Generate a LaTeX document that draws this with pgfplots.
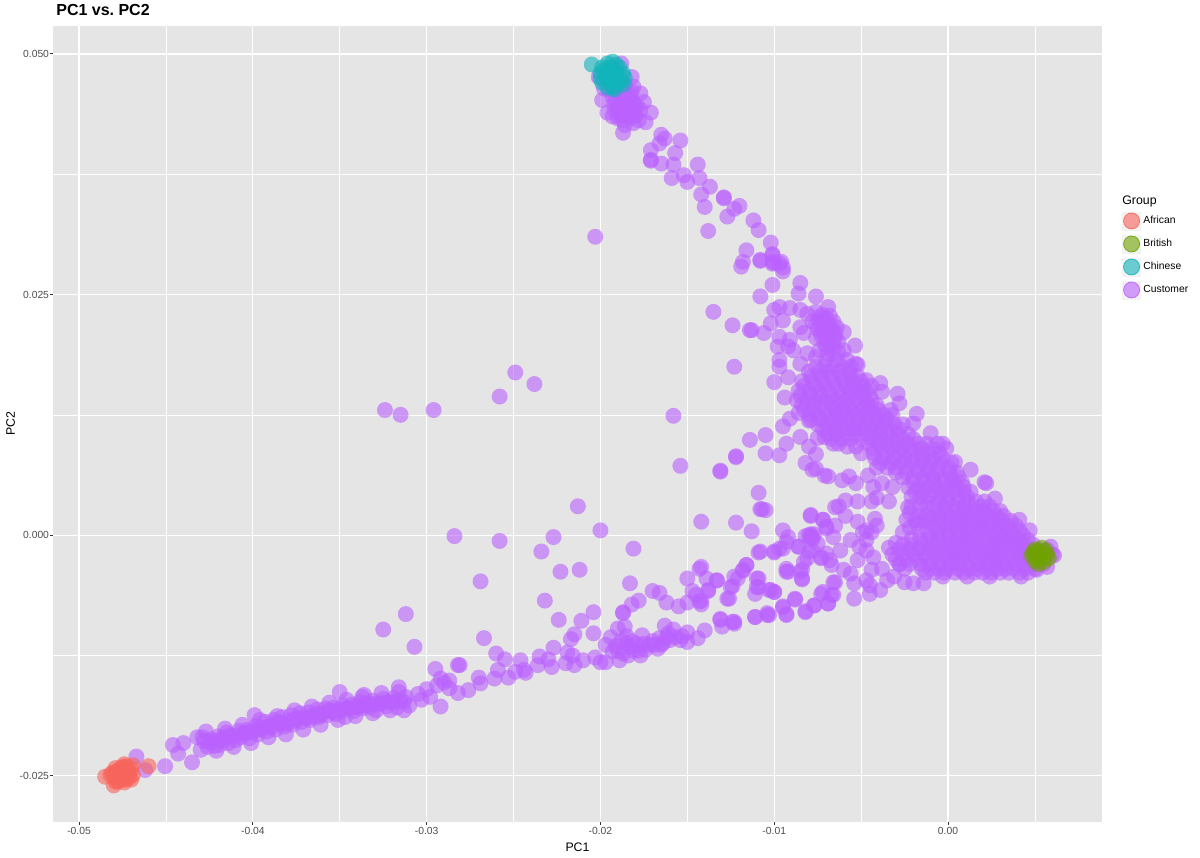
\documentclass[border=0pt]{standalone}
\usepackage{pgfplots}
\pgfplotsset{compat=1.18}
\usepackage{fontspec}
\setmainfont{Liberation Sans}
\definecolor{panel}{HTML}{E5E5E5}
\definecolor{keybg}{HTML}{F2F2F2}
\definecolor{ticktxt}{HTML}{4D4D4D}
\definecolor{tickln}{HTML}{333333}
\definecolor{cAfrican}{HTML}{F8645C}
\definecolor{cBritish}{HTML}{6FA300}
\definecolor{cChinese}{HTML}{10B4BA}
\definecolor{cCustomer}{HTML}{BA61FF}
\pgfplotsset{
  dot/.style={only marks,mark=*,mark size=4.8pt,mark options={draw opacity=0,line width=0pt,fill=#1,fill opacity=0.6}},
  key/.style={legend image code/.code={
    \fill[keybg] (0pt,-5.4pt) rectangle (10.8pt,5.4pt);
    \fill[#1,fill opacity=0.6] (5.4pt,0pt) circle (4.8pt);}}
}
\begin{document}
\begin{tikzpicture}
\path[use as bounding box] (0pt,0pt) rectangle (720pt,514.2pt);
% values on the axis are PC1 and PC2 times 1000; tick labels show the real values
\begin{axis}[
  at={(31.8pt,21pt)},anchor=south west,
  scale only axis,width=629.4pt,height=477.6pt,
  xmin=-51.5,xmax=8.86,ymin=-29.8,ymax=52.9,
  axis background/.style={fill=panel},
  axis line style={draw=none},
  tick align=outside,tick pos=left,
  major tick length=1.8pt,minor tick length=0pt,
  tick style={tickln,line width=0.55pt},
  xtick={-50,-40,-30,-20,-10,0},
  xticklabels={-0.05,-0.04,-0.03,-0.02,-0.01,0.00},
  ytick={-25,0,25,50},
  yticklabels={-0.025,0.000,0.025,0.050},
  minor xtick={-45,-35,-25,-15,-5,5},
  minor ytick={-12.5,12.5,37.5},
  grid=both,
  major grid style={white,line width=0.75pt},
  minor grid style={white,line width=0.35pt},
  tick label style={font=\fontsize{6.2}{7.5}\selectfont,text=ticktxt},
  xticklabel style={inner sep=1pt},
  yticklabel style={inner sep=0.4pt},
  xlabel={PC1},ylabel={PC2},
  label style={font=\fontsize{7.4}{9}\selectfont},
  xlabel style={at={(axis description cs:0.5,-0.0188)},anchor=north},
  ylabel style={at={(axis description cs:-0.0305,0.5)},anchor=south},
  legend cell align=left,
  legend style={draw=none,fill=none,at={(axis description cs:1.0142,0.7714)},anchor=north west,
    font=\fontsize{6.2}{7.5}\selectfont,row sep=2.6pt,
    nodes={inner sep=0pt,outer sep=0pt},column sep=1.5pt},
]
\addlegendimage{key=cAfrican}\addlegendentry{African}
\addlegendimage{key=cBritish}\addlegendentry{British}
\addlegendimage{key=cChinese}\addlegendentry{Chinese}
\addlegendimage{key=cCustomer}\addlegendentry{Customer}
% Customer
\addplot[dot=cCustomer,forget plot] coordinates {
(-46.7,-23.0)(-46.2,-24.4)(-45.05,-24.0)(-44.6,-21.8)(-44.0,-21.6)(-44.3,-22.7)(-43.5,-23.6)(-42.9,-21.0)(-39.9,-18.7)(-35.0,-16.3)(-33.7,-16.8)(-31.6,-15.8)
(-32.5,-9.8)(-31.2,-8.2)(-30.7,-11.6)(-29.5,-13.9)(-29.2,-17.8)(-28.2,-13.5)
(-43.2,-21.0)(-43.0,-22.3)(-42.8,-21.4)(-42.6,-22.0)(-42.4,-21.2)(-42.2,-21.9)(-42.0,-20.9)(-41.9,-21.8)(-41.7,-21.3)(-41.5,-20.5)(-41.4,-21.6)(-41.2,-20.9)(-41.0,-21.3)(-40.8,-20.3)(-40.7,-21.0)(-40.5,-20.6)(-40.3,-20.2)(-40.2,-21.1)(-40.0,-20.4)(-39.8,-19.8)(-39.7,-20.7)(-39.5,-20.0)(-39.3,-19.4)(-39.2,-20.4)(-39.0,-19.8)(-38.8,-19.2)(-38.7,-20.2)(-38.5,-19.6)(-38.3,-18.9)(-38.2,-19.9)(-38.0,-19.3)(-37.8,-18.7)(-37.7,-19.7)(-37.5,-19.1)(-37.3,-18.5)(-37.2,-19.4)(-37.0,-18.9)(-36.8,-18.4)(-36.7,-19.2)(-36.5,-18.7)(-36.3,-18.1)(-36.2,-18.9)(-36.0,-18.5)(-35.8,-18.0)(-35.7,-18.7)(-35.5,-18.3)(-35.3,-17.9)(-35.2,-18.6)(-35.0,-18.1)(-34.8,-17.7)(-34.7,-18.9)(-34.5,-18.0)(-34.3,-17.6)(-34.2,-18.3)(-34.0,-17.8)(-33.8,-17.3)(-33.7,-18.0)(-33.5,-17.5)(-33.3,-17.9)(-33.1,-17.2)(-32.9,-18.2)(-32.7,-17.5)(-32.5,-17.0)(-32.3,-17.8)(-32.1,-17.3)(-31.9,-16.9)(-31.7,-17.9)(-31.5,-17.2)(-31.2,-16.8)(-31.0,-17.7)
(-42.7,-20.4)(-42.1,-22.4)(-41.6,-20.1)(-41.1,-22.0)(-40.6,-19.7)(-40.1,-21.6)(-39.6,-19.2)(-39.1,-21.0)(-38.6,-18.8)(-38.1,-20.7)(-37.6,-18.2)(-37.1,-20.2)(-36.6,-17.8)(-36.1,-19.7)(-35.6,-17.4)(-35.1,-19.2)(-34.6,-17.1)(-34.1,-18.8)(-33.6,-16.6)(-33.1,-18.5)(-32.6,-16.4)(-32.1,-18.2)(-31.6,-16.3)(-31.3,-18.2)
(-41.3,-20.8)(-40.6,-20.6)(-39.9,-20.3)(-39.1,-19.9)(-38.4,-19.5)(-37.6,-19.3)(-36.9,-19.0)(-36.1,-18.7)(-35.4,-18.4)(-34.6,-18.0)(-33.9,-17.8)(-33.2,-17.5)
(-42.5,-21.5)(-42.0,-21.3)(-41.7,-21.0)(-41.0,-20.8)(-40.3,-20.5)(-39.6,-20.2)(-38.9,-20.0)(-38.6,-19.4)(-38.0,-19.6)(-37.4,-19.0)(-36.6,-18.9)(-36.3,-18.6)(-35.6,-18.2)(-34.9,-18.3)(-34.2,-17.9)(-33.6,-17.7)(-33.0,-17.6)(-32.4,-17.4)(-31.8,-17.3)(-31.3,-17.3)
(-30.5,-16.5)(-30.3,-17.1)(-30.0,-16.0)(-29.8,-16.8)(-29.4,-15.6)(-29.0,-15.3)
(-28.4,-0.1)(-25.8,-0.6)(-23.4,-1.7)(-22.7,-0.2)(-21.3,3.0)(-20.0,0.5)(-18.1,-1.4)(-26.9,-4.8)(-22.3,-3.8)(-21.2,-3.6)(-23.2,-6.8)(-18.3,-5.0)(-22.4,-8.8)(-20.4,-8.0)(-21.1,-8.9)(-26.7,-10.7)(-20.4,-10.2)(-21.5,-10.3)(-21.7,-10.8)(-22.7,-11.7)(-26.0,-12.3)(-25.5,-12.9)(-24.6,-13.0)(-23.5,-12.6)(-28.1,-13.5)(-23.0,-12.9)(-21.9,-12.2)(-21.6,-12.5)(-25.9,-14.0)(-26.1,-14.9)(-25.3,-14.8)(-24.9,-14.2)(-24.3,-14.3)(-24.4,-14.0)(-23.6,-13.5)(-22.8,-13.7)(-22.0,-13.3)(-21.5,-13.5)(-21.0,-13.0)(-20.3,-12.7)(-20.0,-13.2)(-19.7,-13.2)(-27.0,-14.8)(-26.9,-15.4)(-27.6,-16.1)(-28.7,-15.1)(-28.7,-15.9)(-28.2,-16.4)(-29.2,-14.9)
(-19.4,-10.6)(-19.0,-9.7)(-18.6,-9.5)(-19.7,-11.4)(-19.3,-12.1)(-18.9,-13.0)(-18.5,-11.2)(-18.1,-12.0)(-17.7,-12.5)(-17.6,-10.4)(-17.2,-11.4)(-16.7,-11.8)(-16.6,-10.7)(-16.3,-9.4)(-15.8,-9.8)(-16.0,-10.9)(-15.4,-10.9)(-15.0,-11.1)(-15.0,-10.1)(-14.4,-10.7)(-14.0,-9.9)(-18.3,-11.6)(-18.7,-12.3)(-19.1,-11.5)(-18.4,-12.5)(-17.9,-11.3)(-17.4,-11.9)(-17.0,-11.0)(-16.4,-11.2)(-16.2,-10.6)
(-18.8,-11.0)(-18.2,-11.0)(-17.8,-12.0)(-18.5,-10.5)(-19.0,-12.0)(-17.5,-11.3)(-16.9,-11.4)(-16.5,-11.4)(-15.7,-10.6)(-15.3,-10.5)(-16.1,-10.2)
(-18.7,-8.1)(-18.7,-8.0)(-18.2,-7.2)(-17.8,-6.8)(-17.0,-5.8)(-16.6,-6.0)(-16.2,-7.0)(-15.5,-7.4)(-15.0,-7.0)(-14.2,-7.2)(-14.3,-6.9)(-14.7,-5.8)(-14.5,-6.2)(-15.0,-4.5)(-14.3,-3.5)(-13.9,-4.5)(-13.3,-4.7)(-13.8,-5.8)(-12.7,-6.6)(-12.4,-5.3)(-12.1,-4.5)(-11.8,-3.7)(-11.6,-3.1)(-10.9,-1.8)(-11.3,0.4)(-12.2,1.3)(-14.2,1.4)(-10.9,4.4)(-10.8,2.7)(-10.5,2.6)
(-10.9,-4.5)(-11.0,-5.4)(-11.1,-6.1)(-10.2,-5.7)(-10.0,-5.9)(-11.1,-8.5)(-10.4,-8.3)(-10.4,-8.1)(-13.1,-8.8)(-13.0,-9.5)(-12.3,-9.2)(-12.3,-9.0)(-9.5,-7.4)(-9.3,-8.2)(-8.8,-6.7)(-8.2,-8.0)(-7.7,-7.3)(-6.9,-7.1)(-7.2,-5.9)(-6.6,-6.2)
(-9.3,-3.8)(-9.3,-3.5)(-8.4,-4.5)(-8.4,-3.6)(-8.3,-2.8)(-10.0,-1.8)(-9.5,-1.4)(-9.3,-0.7)(-9.5,0.5)(-8.6,-1.2)(-7.9,2.1)(-7.9,-0.2)(-7.8,-0.4)(-8.0,0.0)(-7.7,0.1)(-7.2,1.6)(-7.0,0.7)(-7.8,-1.6)(-7.3,-2.3)(-6.8,-2.6)(-6.5,-4.9)(-6.5,2.9)
(-20.3,31.0)(-32.4,13.0)(-31.5,12.5)(-29.6,13.0)(-24.9,16.9)(-25.8,14.4)(-23.8,15.7)(-15.8,12.4)(-15.4,7.2)(-13.1,6.6)(-12.2,8.2)(-12.3,17.5)(-13.5,23.2)(-12.4,21.8)(-11.3,21.3)
(-18.7,41.8)(-16.5,41.6)(-16.6,40.7)(-16.3,41.2)(-15.4,41.0)(-15.7,39.7)(-17.1,40.0)(-17.1,38.9)(-17.1,39.0)(-16.5,38.6)(-15.8,38.5)(-15.9,37.1)(-15.2,37.4)(-15.0,36.7)(-14.4,38.5)(-14.3,37.1)(-13.7,36.2)(-14.2,35.4)(-14.0,34.1)(-13.8,31.6)(-12.9,35.1)(-12.9,35.0)(-12.7,33.1)(-12.3,33.9)(-12.0,34.2)(-11.2,32.7)(-10.9,31.7)(-10.2,30.4)(-11.6,29.6)(-10.1,29.2)(-11.8,28.4)(-11.9,27.9)(-10.8,28.6)(-10.1,28.4)(-10.0,28.3)(-9.6,28.4)(-9.5,27.8)
(-19.9,45.2)(-19.6,43.9)(-19.3,43.5)(-18.7,43.1)(-18.1,42.8)(-17.4,42.9)(-17.1,43.9)(-17.5,45.0)(-17.7,45.9)(-17.8,43.1)(-19.0,44.5)(-18.5,45.5)(-18.1,46.6)(-18.2,47.6)(-18.8,49.0)(-19.8,46.4)(-20.1,47.6)(-19.0,44.6)(-18.3,44.2)(-17.7,44.2)(-19.3,45.5)(-19.5,46.3)(-18.5,43.9)(-18.1,44.9)(-19.0,43.3)(-18.6,42.6)(-19.2,44.8)(-18.8,44.0)(-18.4,45.0)(-18.0,43.6)(-18.9,46.0)(-18.6,46.8)(-18.3,43.3)(-17.9,44.6)
(-19.2,44.2)(-18.9,44.9)(-18.7,44.4)(-18.5,44.5)(-18.3,44.6)(-18.6,43.6)(-18.2,43.7)(-18.9,43.6)(-18.0,44.2)(-19.1,45.2)(-18.7,45.3)(-18.3,45.6)(-18.9,45.6)(-18.2,46.1)(-18.5,46.2)
(-8.1,23.0)(-7.6,23.2)(-7.2,22.9)(-6.8,22.8)(-7.8,22.2)(-7.4,22.3)(-7.0,22.1)(-6.6,22.2)(-7.5,21.4)(-7.1,21.5)(-6.7,21.3)(-6.4,21.6)(-7.3,20.7)(-6.9,20.7)(-6.5,20.5)(-7.6,20.5)(-7.1,19.9)(-6.7,19.8)(-6.3,20.1)
(-7.6,21.9)(-7.2,21.8)(-6.8,21.8)(-7.3,21.1)(-6.9,21.1)(-6.5,21.0)(-7.0,20.3)(-7.4,22.7)(-7.0,22.5)(-6.6,20.0)
(-9.7,23.7)(-9.1,23.6)(-8.5,23.4)(-10.0,23.4)(-10.2,22.0)(-9.5,22.3)(-10.6,21.0)(-9.7,20.6)(-9.1,20.3)(-9.2,19.6)(-9.8,19.6)(-8.9,19.2)(-9.7,18.2)(-8.3,21.0)(-8.5,21.6)(-9.7,17.5)(-9.2,16.4)(-10.0,15.9)(-9.4,14.3)(-11.4,21.3)
(-8.5,26.2)(-8.6,25.1)(-7.6,24.8)(-6.9,23.7)(-10.1,26.0)(-10.8,24.8)(-9.5,27.4)(-10.1,28.2)(-9.7,28.2)(-10.8,28.5)(-10.1,29.1)
(-5.35,19.7)(-6.0,21.1)(-5.3,17.8)(-5.8,18.2)(-6.6,18.9)(-7.6,18.5)(-8.5,17.8)(-8.1,18.9)(-7.0,19.6)(-6.0,19.2)(-5.2,17.7)
(-7.6,17.5)(-7.1,17.5)(-6.6,17.5)(-6.1,17.5)(-5.6,17.5)(-7.0,18.2)(-6.4,18.2)(-6.9,18.8)(-6.3,19.0)(-7.4,19.2)
(-4.7,16.1)(-3.9,15.8)(-3.8,14.9)(-2.9,14.7)(-2.8,13.7)(-3.3,13.0)(-1.8,12.6)(-2.0,11.6)(-1.0,10.6)(-0.3,9.5)(-0.1,9.0)(0.4,7.6)(1.3,6.8)(2.1,5.5)(2.2,5.4)(2.7,3.8)
(-8.0,17)(-7.4,17)(-6.9,17)(-6.3,17)(-5.7,17)
(-7.9,16.5)(-7.3,16.5)(-6.7,16.5)(-6.1,16.5)(-5.6,16.5)(-5.2,16.5)
(-8.4,16)(-7.8,16)(-7.2,16)(-6.6,16)(-6.0,16)(-5.5,16)(-5.0,16)
(-8.3,15.5)(-7.7,15.5)(-7.1,15.5)(-6.5,15.5)(-5.9,15.5)(-5.4,15.5)(-4.9,15.5)(-4.4,15.5)
(-8.6,15)(-8.0,15)(-7.4,15)(-6.9,15)(-6.3,15)(-5.7,15)(-5.2,15)(-4.7,15)
(-8.5,14.5)(-7.9,14.5)(-7.3,14.5)(-6.7,14.5)(-6.1,14.5)(-5.6,14.5)(-5.0,14.5)(-4.5,14.5)
(-8.7,14)(-8.1,14)(-7.6,14)(-7.0,14)(-6.4,14)(-5.9,14)(-5.3,14)(-4.8,14)(-4.4,14)
(-8.4,13.5)(-7.8,13.5)(-7.3,13.5)(-6.7,13.5)(-6.2,13.5)(-5.7,13.5)(-5.1,13.5)(-4.6,13.5)(-4.1,13.5)
(-8.3,13)(-7.7,13)(-7.1,13)(-6.5,13)(-6.0,13)(-5.5,13)(-4.9,13)(-4.4,13)(-4.0,13)
(-8.0,12.5)(-7.5,12.5)(-6.9,12.5)(-6.4,12.5)(-5.8,12.5)(-5.3,12.5)(-4.7,12.5)(-4.2,12.5)(-3.7,12.5)(-3.2,12.5)
(-7.9,12)(-7.3,12)(-6.7,12)(-6.2,12)(-5.6,12)(-5.1,12)(-4.6,12)(-4.0,12)(-3.5,12)
(-7.5,11.5)(-7.0,11.5)(-6.4,11.5)(-5.9,11.5)(-5.3,11.5)(-4.8,11.5)(-4.2,11.5)(-3.6,11.5)(-3.1,11.5)(-2.6,11.5)
(-7.2,11)(-6.6,11)(-6.1,11)(-5.5,11)(-5.0,11)(-4.4,11)(-3.9,11)(-3.3,11)(-2.8,11)
(-6.9,10.5)(-6.4,10.5)(-5.8,10.5)(-5.3,10.5)(-4.7,10.5)(-4.1,10.5)(-3.5,10.5)(-2.9,10.5)(-2.3,10.5)
(-6.7,10)(-6.1,10)(-5.6,10)(-5.0,10)(-4.4,10)(-3.8,10)(-3.2,10)(-2.6,10)(-2.0,10)
(-4.6,9.5)(-4.0,9.5)(-3.5,9.5)(-2.9,9.5)(-2.3,9.5)(-1.7,9.5)(-1.2,9.5)(-0.6,9.5)
(-4.3,9)(-3.8,9)(-3.2,9)(-2.6,9)(-2.0,9)(-1.5,9)(-0.9,9)
(-4.3,8.5)(-3.5,8.5)(-2.8,8.5)(-2.2,8.5)(-1.6,8.5)(-1.1,8.5)(-0.5,8.5)
(-4.2,8)(-3.7,8)(-3.1,8)(-2.5,8)(-1.9,8)(-1.4,8)(-0.8,8)(-0.3,8)
(-3.9,7.5)(-3.3,7.5)(-2.7,7.5)(-2.1,7.5)(-1.5,7.5)(-1.0,7.5)(-0.4,7.5)(0.2,7.5)
(-4.1,7)(-3.5,7)(-3.0,7)(-2.4,7)(-1.8,7)(-1.2,7)(-0.6,7)(0.0,7)
(-3.0,6.5)(-2.4,6.5)(-1.7,6.5)(-1.1,6.5)(-0.6,6.5)(0.1,6.5)(0.5,6.5)
(-2.6,6)(-2.0,6)(-1.4,6)(-0.9,6)(-0.3,6)(0.2,6)(0.6,6)
(-2.0,5.5)(-1.4,5.5)(-0.8,5.5)(-0.3,5.5)(0.3,5.5)(0.8,5.5)
(-2.3,5)(-1.7,5)(-1.1,5)(-0.6,5)(0.0,5)(0.5,5)(0.9,5)
(-1.9,4.5)(-1.4,4.5)(-0.8,4.5)(-0.3,4.5)(0.3,4.5)(0.9,4.5)(1.3,4.5)
(-2.1,4)(-1.6,4)(-1.1,4)(-0.5,4)(0.0,4)(0.6,4)(1.1,4)
(-1.3,3.5)(-0.5,3.5)(0.0,3.5)(0.6,3.5)(1.1,3.5)(1.6,3.5)(2.1,3.5)
(-0.8,3)(-0.2,3)(0.3,3)(0.9,3)(1.4,3)(1.9,3)(2.4,3)
(-0.6,2.5)(-0.1,2.5)(0.5,2.5)(1.0,2.5)(1.6,2.5)(2.1,2.5)(2.6,2.5)(3.0,2.5)
(-0.9,2)(-0.4,2)(0.2,2)(0.7,2)(1.2,2)(1.8,2)(2.3,2)(2.8,2)(3.2,2)
(-0.6,1.5)(0.0,1.5)(0.5,1.5)(1.0,1.5)(1.5,1.5)(2.0,1.5)(2.6,1.5)(3.1,1.5)(3.6,1.5)
(-0.9,1)(-0.3,1)(0.2,1)(0.8,1)(1.3,1)(1.8,1)(2.3,1)(2.9,1)(3.4,1)(3.9,1)
(-0.6,0.5)(-0.1,0.5)(0.5,0.5)(1.0,0.5)(1.5,0.5)(2.0,0.5)(2.6,0.5)(3.1,0.5)(3.6,0.5)(4.1,0.5)
(-1.0,0)(-0.4,0)(0.1,0)(0.7,0)(1.2,0)(1.7,0)(2.3,0)(2.8,0)(3.3,0)(3.8,0)(4.3,0)
(-1.2,-0.5)(-0.6,-0.5)(0.0,-0.5)(0.5,-0.5)(1.0,-0.5)(1.5,-0.5)(2.1,-0.5)(2.6,-0.5)(3.1,-0.5)(3.6,-0.5)(4.1,-0.5)(4.6,-0.5)
(-1.5,-1)(-0.9,-1)(-0.3,-1)(0.2,-1)(0.8,-1)(1.3,-1)(1.8,-1)(2.4,-1)(2.9,-1)(3.4,-1)(3.9,-1)(4.4,-1)(4.9,-1)
(-2.8,-1.5)(-2.2,-1.5)(-1.7,-1.5)(-1.1,-1.5)(-0.6,-1.5)(0.0,-1.5)(0.5,-1.5)(1.0,-1.5)(1.6,-1.5)(2.1,-1.5)(2.6,-1.5)(3.1,-1.5)(3.7,-1.5)(4.2,-1.5)(4.7,-1.5)(5.2,-1.5)(5.7,-1.5)
(-3.2,-2)(-2.6,-2)(-2.0,-2)(-1.4,-2)(-0.8,-2)(-0.3,-2)(0.3,-2)(0.8,-2)(1.3,-2)(1.9,-2)(2.4,-2)(2.9,-2)(3.4,-2)(4.0,-2)(4.5,-2)(5.0,-2)(5.6,-2)(6.0,-2)
(-3.0,-2.5)(-2.4,-2.5)(-1.8,-2.5)(-1.2,-2.5)(-0.6,-2.5)(0.0,-2.5)(0.5,-2.5)(1.0,-2.5)(1.6,-2.5)(2.1,-2.5)(2.6,-2.5)(3.1,-2.5)(3.7,-2.5)(4.2,-2.5)(4.7,-2.5)(5.3,-2.5)
(-2.8,-3)(-2.2,-3)(-1.6,-3)(-1.0,-3)(-0.4,-3)(0.2,-3)(0.7,-3)(1.2,-3)(1.8,-3)(2.3,-3)(2.8,-3)(3.3,-3)(3.9,-3)(4.4,-3)(4.9,-3)(5.5,-3)
(-2.5,-3.5)(-1.5,-3.5)(-1.0,-3.5)(-0.5,-3.5)(0.0,-3.5)(0.6,-3.5)(1.2,-3.5)(1.7,-3.5)(2.3,-3.5)(2.8,-3.5)(3.3,-3.5)(3.8,-3.5)(4.4,-3.5)(5.0,-3.5)
(-1.3,-3.9)(-0.8,-3.9)(-0.2,-3.9)(0.4,-3.9)(0.9,-3.9)(1.5,-3.9)(2.0,-3.9)(2.5,-3.9)(3.0,-3.9)(3.5,-3.9)(4.1,-3.9)(4.6,-3.9)
(-2.1,3.0)(-1.6,3.0)(-1.2,3.0)(-1.7,2.0)(-1.3,2.0)(-1.9,1.5)(-1.4,1.5)(-1.1,1.5)(-2.2,0.8)(-1.7,0.5)(-1.2,0.5)(-2.1,-0.4)(-1.6,-0.4)(-2.6,-1.0)(-2.1,-1.0)(-2.2,2.3)(-3.0,-0.8)(-3.4,-1.3)
(-4.6,6.2)(-4.3,5.0)(-3.8,5.4)(-3.2,5.0)(-4.1,3.9)(-3.4,3.5)(-2.3,2.9)(-2.4,1.6)(-1.8,1.2)(-2.6,0.3)(-4.1,1.0)(-4.4,0.3)(-4.9,0.3)(-4.2,1.7)(-4.7,-0.5)
(-5.9,3.6)(-6.3,3.0)(-5.2,3.5)(-4.4,3.5)(-5.9,2.0)(-5.2,1.4)(-7.2,1.6)(-7.9,2.0)(-6.5,1.0)(-7.0,0.9)(-6.6,-0.2)(-7.9,0.1)(-7.8,-0.2)(-8.2,-0.1)(-9.2,-0.2)(-9.7,-1.4)(-10.0,-1.7)(-8.6,-1.2)(-10.8,-1.7)
(-10.7,2.7)(-13.1,6.7)(-12.2,8.1)(-11.4,9.9)(-10.5,10.4)(-10.5,8.5)(-9.7,8.3)(-9.3,9.5)(-9.5,11.3)(-9.1,12.1)(-8.6,12.7)(-8.0,11.9)(-8.5,10.2)(-7.5,10.1)(-8.0,9.2)(-7.6,8.4)(-8.2,7.5)(-7.8,6.8)(-7.6,6.9)(-7.1,6.2)(-6.9,6.1)(-6.1,5.7)(-5.7,6.1)(-5.3,5.4)(-6.3,9.5)(-5.8,9.2)(-5.0,8.5)(-7.1,10.2)(-6.6,9.5)(-5.3,9.2)
(-5.6,-0.5)(-4.7,0.5)(-6.2,-1.6)(-7.0,-1.9)(-7.3,-2.4)(-6.7,-3.1)(-8.0,-1.7)(-7.5,-0.9)(-8.1,-2.4)(-8.5,-3.8)(-8.4,-4.6)(-9.2,-3.8)(-6.0,-3.6)(-5.6,-4.0)(-5.2,-2.6)(-4.7,-1.6)(-4.3,-2.3)(-5.1,-1.2)(-4.4,-3.6)(-3.8,-3.5)(-3.5,-4.7)(-3.9,-5.7)(-4.5,-6.1)(-5.4,-5.0)(-5.4,-6.6)(-6.6,-4.9)(-7.3,-6.1)(-6.7,-6.2)(-6.9,-7.1)(-7.7,-7.3)(-8.2,-7.9)(-8.8,-6.6)(-9.3,-8.3)(-9.5,-7.5)(-10.3,-8.3)(-11.1,-8.5)
(-10.0,-5.9)(-10.3,-5.7)(-11.0,-4.5)(-10.9,-5.4)(-11.6,-3.1)(-11.8,-3.6)(-12.3,-4.3)(-12.5,-5.4)(-13.3,-4.7)(-12.6,-6.6)(-13.8,-5.7)(-14.2,-3.3)(-14.2,-6.8)(-13.1,-8.7)(-12.4,-9.0)(-2.0,-5.0)(-2.5,-4.9)(-1.4,-5.0)(-3.1,-4.3)(-2.8,-3.0)(-0.3,-4.3)(1.1,-4.3)(2.4,-4.3)(4.2,-4.3)(-4.7,-4.7)(-4.5,-5.2)
(5.9,-1.2)(6.1,-2.1)(5.7,-3.3)(5.1,-3.6)(4.7,0.5)(4.1,1.6)
};
% African
\addplot[dot=cAfrican,forget plot] coordinates {
(-48.5,-25.1)(-48.0,-26.0)(-48.1,-24.7)(-47.9,-25.2)(-47.7,-24.4)(-47.6,-24.9)(-47.5,-25.4)(-47.3,-24.0)(-47.2,-24.6)(-47.1,-25.2)(-47.9,-24.2)(-47.4,-23.8)(-47.0,-24.3)(-46.9,-24.9)(-47.8,-25.6)(-47.4,-25.7)(-48.2,-24.9)(-46.0,-24.0)(-47.6,-24.2)(-47.3,-25.0)(-47.0,-25.4)(-47.9,-25.6)(-46.9,-23.9)
(-48.0,-25.0)(-47.8,-24.8)(-47.5,-24.5)(-47.3,-24.6)(-47.1,-24.8)(-47.7,-25.2)(-47.4,-25.2)(-47.6,-24.6)(-47.9,-24.6)(-47.2,-24.2)(-47.5,-24.1)(-47.7,-25.5)(-47.3,-25.4)
};
% British
\addplot[dot=cBritish,forget plot] coordinates {
(5.2,-2.1)(5.0,-1.5)(5.4,-1.3)(4.8,-2.1)(5.7,-2.0)(5.0,-2.7)(5.5,-2.8)(5.2,-1.7)(5.3,-2.5)(5.8,-2.4)(4.9,-1.8)(5.6,-1.6)(5.2,-3.0)(5.1,-2.3)(5.4,-2.1)
};
% Chinese
\addplot[dot=cChinese,forget plot] coordinates {
(-20.5,48.9)(-19.3,49.2)(-19.9,48.6)(-19.6,49.0)(-19.1,48.9)(-18.9,48.6)(-20.0,48.0)(-19.7,48.4)(-19.4,48.6)(-19.1,48.2)(-18.7,48.0)(-18.6,47.5)(-20.0,47.5)(-19.7,47.8)(-19.4,47.9)(-19.1,47.6)(-18.8,47.2)(-19.9,47.0)(-19.6,47.2)(-19.3,47.2)(-19.0,46.9)(-18.7,46.8)(-19.6,46.5)(-19.3,46.5)(-19.2,46.3)
};
\end{axis}
\node[anchor=west,inner sep=0pt,font=\fontsize{9.6}{11}\selectfont\bfseries] at (33.6pt,508.2pt) {PC1 vs.\ PC2};
\node[anchor=west,inner sep=0pt,font=\fontsize{7.4}{9}\selectfont] at (673.2pt,393.6pt) {Group};
\end{tikzpicture}
\end{document}
